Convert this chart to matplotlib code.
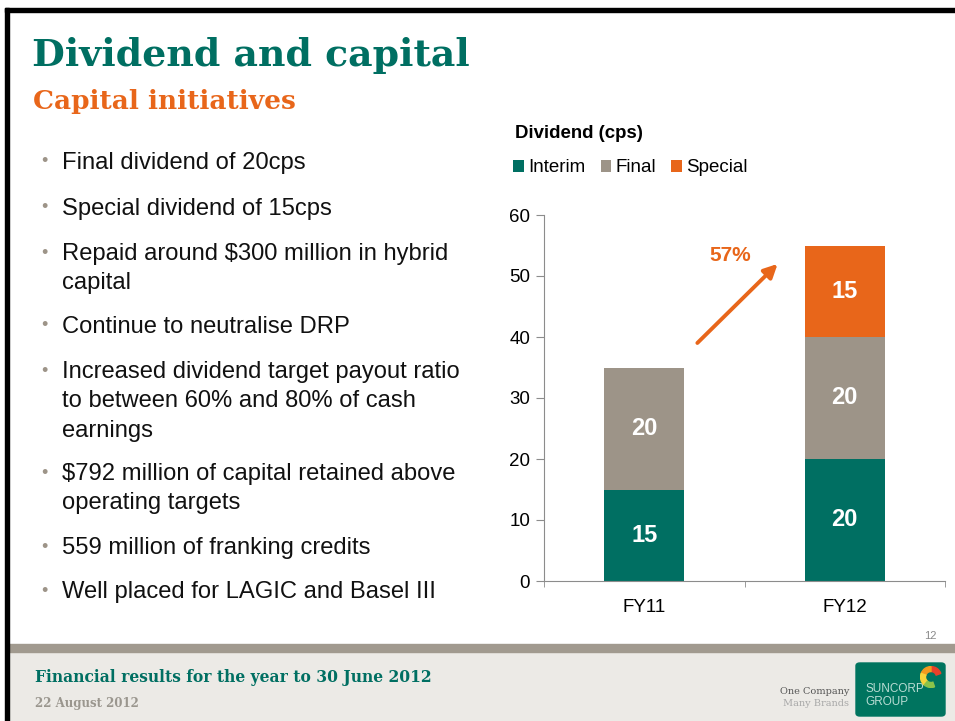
import matplotlib.pyplot as plt
from matplotlib.patches import Rectangle, FancyBboxPatch, Wedge

# данные графика
years = ['FY11', 'FY12']
interim = [15, 20]
final = [20, 20]
special = [0, 15]
growth_label = '57%'

bullets = [
    ['Final dividend of 20cps'],
    ['Special dividend of 15cps'],
    ['Repaid around $300 million in hybrid', 'capital'],
    ['Continue to neutralise DRP'],
    ['Increased dividend target payout ratio', 'to between 60% and 80% of cash', 'earnings'],
    ['$792 million of capital retained above', 'operating targets'],
    ['559 million of franking credits'],
    ['Well placed for LAGIC and Basel III'],
]
bullet_y = [161, 207, 252, 325, 370, 472, 546, 590]

TEAL = '#006F62'
ORANGE = '#E8661A'
GREY = '#9D9488'
AXC = '#8C8C8C'
SERIF = 'DejaVu Serif'

W, H = 955, 721
fig = plt.figure(figsize=(9.55, 7.21), dpi=100)
plt.rcParams['font.family'] = ['Liberation Sans', 'DejaVu Sans']


def fx(x):
    return x / W


def fy(y):
    return 1 - y / H


# рамка слайда
fig.patches.append(Rectangle((fx(5), 0), fx(4), fy(8), transform=fig.transFigure, color='black', zorder=2))
fig.patches.append(Rectangle((fx(5), fy(12)), 1, 4 / H, transform=fig.transFigure, color='black', zorder=2))

# заголовки
fig.text(fx(32), fy(56), 'Dividend and capital', family=SERIF, weight='bold',
         color=TEAL, fontsize=27.3, va='center')
fig.text(fx(33), fy(102), 'Capital initiatives', family=SERIF, weight='bold',
         color=ORANGE, fontsize=19, va='center')

# пункты
for lines, y in zip(bullets, bullet_y):
    fig.text(fx(44), fy(y + 1), '\u2022', color=GREY, fontsize=13, va='center', ha='center')
    for k, line in enumerate(lines):
        fig.text(fx(62), fy(y + 2 + 29.3 * k), line, color='#111111', fontsize=17.1, va='center')

# подвал
fig.patches.append(Rectangle((fx(9), 0), 1, fy(652), transform=fig.transFigure, color='#ECEAE6', zorder=0))
fig.patches.append(Rectangle((fx(9), fy(652)), 1, 8 / H, transform=fig.transFigure, color='#A19A8F', zorder=0))
fig.text(fx(930), fy(636), '12', color='#8A8A8A', fontsize=8, ha='center', va='center')
fig.text(fx(35), fy(678), 'Financial results for the year to 30 June 2012', family=SERIF,
         weight='bold', color=TEAL, fontsize=11.2, va='center')
fig.text(fx(35), fy(703), '22 August 2012', family=SERIF, weight='bold',
         color='#9A968E', fontsize=8.5, va='center')
fig.text(fx(849), fy(692), 'One Company', family=SERIF, color='#555555',
         fontsize=7, ha='right', va='center')
fig.text(fx(849), fy(704), 'Many Brands', family=SERIF, color='#A8A8A8',
         fontsize=7, ha='right', va='center')
logo = FancyBboxPatch((fx(856), fy(716)), fx(89), 53 / H, boxstyle='round,pad=0,rounding_size=0.004',
                      transform=fig.transFigure, color='#00745F', zorder=1)
fig.patches.append(logo)
fig.text(fx(865), fy(689), 'SUNCORP', color='#B8DCD3', fontsize=8.5, va='center', zorder=3)
fig.text(fx(865), fy(702), 'GROUP', color='#B8DCD3', fontsize=8.5, va='center', zorder=3)
swirl = fig.add_axes([fx(920), fy(688), fx(22), 22 / H], zorder=5)
swirl.set_xlim(-1, 1)
swirl.set_ylim(-1, 1)
swirl.axis('off')
for c, t1, t2 in [('#E8402A', 20, 90), ('#F29A1F', 90, 160), ('#F6D43A', 160, 230), ('#8BC34A', 230, 290)]:
    swirl.add_patch(Wedge((0, 0), 0.95, t1, t2, width=0.45, color=c))

# график
ax = fig.add_axes([fx(544), fy(581), fx(401), 366 / H])
x = range(len(years))
ax.bar(x, interim, width=0.4, color=TEAL, label='Interim')
ax.bar(x, final, width=0.4, bottom=interim, color=GREY, label='Final')
bot2 = [a + b for a, b in zip(interim, final)]
ax.bar(x, special, width=0.4, bottom=bot2, color=ORANGE, label='Special')

for i in x:
    ax.text(i, interim[i] / 2, str(interim[i]), color='white', weight='bold', fontsize=17,
            ha='center', va='center')
    ax.text(i, interim[i] + final[i] / 2, str(final[i]), color='white', weight='bold', fontsize=17,
            ha='center', va='center')
    if special[i]:
        ax.text(i, bot2[i] + special[i] / 2, str(special[i]), color='white', weight='bold',
                fontsize=17, ha='center', va='center')

ax.set_xlim(-0.5, 1.5)
ax.set_ylim(0, 60)
ax.set_yticks(range(0, 61, 10))
ax.set_xticks(x)
ax.set_xticklabels(years)
ax.set_xticks([-0.5, 0.5, 1.5], minor=True)
ax.tick_params(axis='x', which='major', length=0, pad=13, labelsize=13.5)
ax.tick_params(axis='x', which='minor', length=4, color=AXC)
ax.tick_params(axis='y', length=6, color=AXC, labelsize=13.5, pad=4)
for s in ['top', 'right']:
    ax.spines[s].set_visible(False)
ax.spines['left'].set_color(AXC)
ax.spines['bottom'].set_color(AXC)

ax.annotate('', xy=(0.675, 52.3), xytext=(0.255, 38.7),
            arrowprops=dict(arrowstyle='-|>', color=ORANGE, lw=2.8, mutation_scale=20))
ax.text(0.43, 53.3, growth_label, color=ORANGE, weight='bold', fontsize=15, ha='center', va='center')

fig.text(fx(515), fy(134), 'Dividend (cps)', weight='bold', fontsize=13.4, va='center')
ax.legend(loc='center left', bbox_to_anchor=(fx(504), fy(168)), bbox_transform=fig.transFigure,
          ncol=3, frameon=False, fontsize=13.5, handlelength=0.55, handleheight=0.55,
          handletextpad=0.25, columnspacing=0.8, borderpad=0)

fig.savefig('out.png', dpi=100)
